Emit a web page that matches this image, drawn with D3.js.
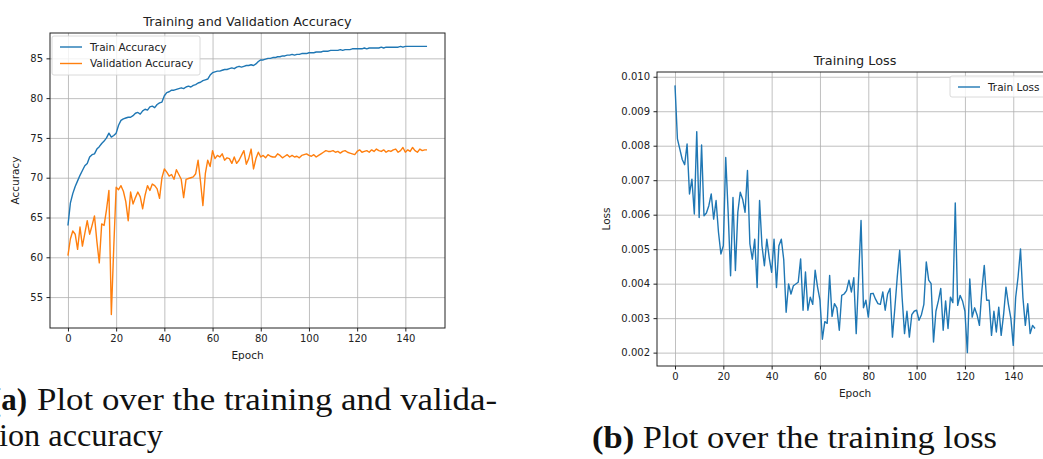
<!DOCTYPE html>
<html>
<head>
<meta charset="utf-8">
<script src="https://cdn.jsdelivr.net/npm/d3@7/dist/d3.min.js"></script>
<style>
  body { margin: 0; background: #fff; }
  svg text { font-family: "DejaVu Sans", sans-serif; fill: #222; }
  .cap text { font-family: "Liberation Serif", "DejaVu Serif", serif; fill: #111; }
</style>
</head>
<body>
<div id="fig"></div>
<script>
// ---- data ----
var trainAcc = [64.0, 66.8, 68.0, 68.9, 69.6, 70.3, 70.9, 71.5, 71.8, 72.6,
  72.9, 73.0, 73.6, 73.9, 74.3, 74.6, 75.0, 75.6, 75.1, 75.3,
  75.6, 76.6, 77.2, 77.4, 77.5, 77.6, 77.6, 77.8, 78.1, 78.2,
  78.0, 78.4, 78.6, 78.5, 78.9, 79.0, 78.8, 79.2, 79.4, 79.5,
  80.3, 80.7, 80.8, 81.0, 81.0, 81.1, 81.2, 81.3, 81.2, 81.4,
  81.5, 81.4, 81.6, 81.7, 81.9, 82.0, 82.2, 82.3, 82.4, 82.9,
  83.2, 83.3, 83.4, 83.4, 83.5, 83.6, 83.6, 83.7, 83.8, 83.7,
  83.9, 84.0, 83.9, 84.0, 84.1, 84.1, 84.2, 84.1, 84.3, 84.6,
  84.8, 84.8, 84.9, 85.0, 85.0, 85.1, 85.1, 85.2, 85.2, 85.3,
  85.3, 85.4, 85.4, 85.5, 85.4, 85.5, 85.5, 85.6, 85.6, 85.6,
  85.7, 85.7, 85.7, 85.8, 85.8, 85.8, 85.9, 85.9, 85.9, 86.0,
  86.0, 86.0, 86.0, 86.1, 86.0, 86.1, 86.1, 86.1, 86.2, 86.2,
  86.2, 86.2, 86.2, 86.3, 86.2, 86.3, 86.3, 86.3, 86.3, 86.3,
  86.4, 86.3, 86.4, 86.4, 86.4, 86.4, 86.4, 86.4, 86.5, 86.4,
  86.5, 86.5, 86.5, 86.5, 86.5, 86.5, 86.5, 86.5, 86.5, 86.5];

var valAcc = [60.2, 62.3, 63.3, 62.9, 61.0, 63.8, 61.4, 63.0, 64.6, 62.9,
  64.0, 65.2, 62.0, 59.3, 64.2, 64.0, 66.0, 68.4, 52.8, 61.2,
  68.8, 68.5, 69.0, 68.3, 67.0, 64.6, 68.2, 66.7, 67.5, 68.2,
  67.6, 66.1, 67.8, 69.0, 68.4, 69.2, 69.0, 68.6, 67.4, 70.0,
  71.1, 70.7, 70.2, 70.4, 69.8, 71.0, 70.4, 69.8, 67.5, 69.8,
  69.9, 70.0, 70.1, 70.5, 72.2, 69.5, 66.5, 70.5, 72.2, 71.4,
  73.4, 72.4, 72.8, 72.6, 73.0, 72.2, 72.5, 72.4, 71.8, 72.6,
  71.8, 72.2, 72.8, 73.4, 71.7, 72.4, 73.6, 71.1, 72.4, 73.2,
  72.6, 72.8, 72.5, 72.9, 72.7, 72.6, 72.6, 73.0, 72.8, 72.5,
  72.7, 72.9, 72.6, 72.8, 72.6, 72.7, 72.5, 72.8, 72.9, 73.0,
  72.8, 72.7, 72.9, 72.6, 72.8, 73.0, 73.2, 73.4, 73.3, 73.3,
  73.4, 73.2, 73.3, 73.1, 73.3, 73.4, 73.2, 73.1, 73.0, 72.9,
  73.3, 73.5, 73.2, 73.3, 73.4, 73.2, 73.5, 73.3, 73.6, 73.4,
  73.3, 73.5, 73.2, 73.4, 73.3, 73.5, 73.6, 73.2, 73.4, 73.8,
  73.2, 73.5, 73.3, 73.8, 73.4, 73.2, 73.6, 73.4, 73.5, 73.5];

var trainLoss = [0.00975, 0.00820, 0.00790, 0.00760, 0.00745, 0.00805, 0.00660, 0.00703, 0.00602, 0.00841,
  0.00592, 0.00802, 0.00597, 0.00605, 0.00626, 0.00660, 0.00587, 0.00641, 0.00549, 0.00486,
  0.00510, 0.00766, 0.00607, 0.00423, 0.00650, 0.00438, 0.00607, 0.00665, 0.00645, 0.00607,
  0.00728, 0.00515, 0.00471, 0.00529, 0.00389, 0.00641, 0.00510, 0.00452, 0.00529, 0.00475,
  0.00433, 0.00529, 0.00389, 0.00510, 0.00529, 0.00470, 0.00317, 0.00399, 0.00370, 0.00394,
  0.00399, 0.00404, 0.00472, 0.00323, 0.00434, 0.00323, 0.00361, 0.00340, 0.00439, 0.00390,
  0.00352, 0.00239, 0.00290, 0.00285, 0.00424, 0.00305, 0.00342, 0.00330, 0.00265, 0.00366,
  0.00370, 0.00380, 0.00410, 0.00376, 0.00417, 0.00255, 0.00420, 0.00583, 0.00330, 0.00352,
  0.00303, 0.00371, 0.00372, 0.00355, 0.00342, 0.00340, 0.00376, 0.00323, 0.00370, 0.00386,
  0.00245, 0.00330, 0.00420, 0.00497, 0.00360, 0.00255, 0.00320, 0.00245, 0.00310, 0.00320,
  0.00323, 0.00294, 0.00310, 0.00340, 0.00463, 0.00410, 0.00400, 0.00231, 0.00320, 0.00350,
  0.00386, 0.00265, 0.00350, 0.00270, 0.00361, 0.00345, 0.00634, 0.00337, 0.00366, 0.00350,
  0.00320, 0.00200, 0.00414, 0.00303, 0.00330, 0.00310, 0.00279, 0.00380, 0.00453, 0.00352,
  0.00352, 0.00250, 0.00320, 0.00260, 0.00332, 0.00250, 0.00310, 0.00390, 0.00340, 0.00300,
  0.00221, 0.00360, 0.00420, 0.00501, 0.00360, 0.00279, 0.00342, 0.00255, 0.00279, 0.00270];

var epochTicks = [0, 20, 40, 60, 80, 100, 120, 140];
var accTicks = [55, 60, 65, 70, 75, 80, 85];
var lossTicks = [0.002, 0.003, 0.004, 0.005, 0.006, 0.007, 0.008, 0.009, 0.010];
var accNames = ["Train Accuracy", "Validation Accuracy"];
var lossNames = ["Train Loss"];
var colors = ["#1f77b4", "#ff7f0e"];

var svg = d3.select("#fig").append("svg")
    .attr("width", 1043)
    .attr("height", 459);

function drawPanel(p) {
    var g = svg.append("g");
    var n = p.series[0].length;
    var xpad = (n - 1) * 0.05;
    var x = d3.scaleLinear().domain([-xpad, n - 1 + xpad]).range([p.left, p.right]);
    var lo = d3.min(p.series, s => d3.min(s)), hi = d3.max(p.series, s => d3.max(s));
    var ypad = (hi - lo) * 0.05;
    var y = d3.scaleLinear().domain([lo - ypad, hi + ypad]).range([p.bottom, p.top]);
    var h = p.bottom - p.top, w = p.right - p.left;

    // grid
    g.append("g")
        .attr("transform", "translate(0," + p.bottom + ")")
        .call(d3.axisBottom(x).tickValues(epochTicks).tickSize(-h).tickFormat(""))
        .call(a => a.select(".domain").remove())
        .selectAll("line").attr("stroke", "#b0b0b0").attr("stroke-width", 0.8);
    g.append("g")
        .attr("transform", "translate(" + p.left + ",0)")
        .call(d3.axisLeft(y).tickValues(p.yTicks).tickSize(-w).tickFormat(""))
        .call(a => a.select(".domain").remove())
        .selectAll("line").attr("stroke", "#b0b0b0").attr("stroke-width", 0.8);

    // lines
    var line = d3.line().x((d, i) => x(i)).y(d => y(d));
    p.series.forEach(function (s, k) {
        g.append("path")
            .datum(s)
            .attr("fill", "none")
            .attr("stroke", colors[k])
            .attr("stroke-width", 1.4)
            .attr("stroke-linejoin", "round")
            .attr("d", line);
    });

    // frame
    g.append("rect")
        .attr("x", p.left).attr("y", p.top)
        .attr("width", w).attr("height", h)
        .attr("fill", "none").attr("stroke", "#222").attr("stroke-width", 1);

    // axes
    var xa = g.append("g")
        .attr("transform", "translate(0," + p.bottom + ")")
        .call(d3.axisBottom(x).tickValues(epochTicks).tickSize(3.5).tickPadding(3.5));
    var ya = g.append("g")
        .attr("transform", "translate(" + p.left + ",0)")
        .call(d3.axisLeft(y).tickValues(p.yTicks).tickSize(3.5).tickPadding(3.5).tickFormat(p.fmt));
    [xa, ya].forEach(function (a) {
        a.select(".domain").remove();
        a.selectAll("line").attr("stroke", "#222");
        a.selectAll("text").style("font-family", "DejaVu Sans").style("font-size", "10px").attr("fill", "#222");
    });

    // titles
    g.append("text")
        .attr("x", (p.left + p.right) / 2).attr("y", p.top - 7)
        .attr("text-anchor", "middle").style("font-size", "12.8px")
        .text(p.title);
    g.append("text")
        .attr("x", (p.left + p.right) / 2).attr("y", p.bottom + 31)
        .attr("text-anchor", "middle").style("font-size", "10.5px")
        .text("Epoch");
    g.append("text")
        .attr("transform", "translate(" + p.ylabX + "," + (p.top + h / 2) + ") rotate(-90)")
        .attr("text-anchor", "middle").style("font-size", "10.5px")
        .text(p.ylabel);

    // legend
    var lg = p.legend;
    g.append("rect")
        .attr("x", lg.x).attr("y", lg.y).attr("width", lg.w).attr("height", lg.h)
        .attr("rx", 2).attr("fill", "#fff").attr("fill-opacity", 0.8)
        .attr("stroke", "#d0d0d0").attr("stroke-width", 0.8);
    p.names.forEach(function (name, k) {
        var cy = lg.y + 11 + k * 16.5;
        g.append("line")
            .attr("x1", lg.x + 8).attr("x2", lg.x + 30)
            .attr("y1", cy).attr("y2", cy)
            .attr("stroke", colors[k]).attr("stroke-width", 1.4);
        g.append("text")
            .attr("x", lg.x + 38).attr("y", cy).attr("dy", "0.35em")
            .style("font-size", "10.5px")
            .text(name);
    });
}

drawPanel({
    left: 50, right: 445, top: 33, bottom: 328,
    series: [trainAcc, valAcc], names: accNames, yTicks: accTicks, fmt: d3.format("d"),
    title: "Training and Validation Accuracy", ylabel: "Accuracy", ylabX: 19,
    legend: {x: 52, y: 36, w: 148, h: 39}
});

drawPanel({
    left: 657, right: 1053, top: 72, bottom: 366,
    series: [trainLoss], names: lossNames, yTicks: lossTicks, fmt: d3.format(".3f"),
    title: "Training Loss", ylabel: "Loss", ylabX: 610,
    legend: {x: 950, y: 76, w: 100, h: 21}
});

// captions (the left one is cut by the page edge, as in the original)
var cap = svg.append("g").attr("class", "cap").style("font-size", "31px");
cap.append("text").attr("x", 27).attr("y", 410).attr("text-anchor", "end")
    .style("font-weight", "bold").text("(a)");
cap.append("text").attr("x", 37).attr("y", 410)
    .attr("textLength", 460).attr("lengthAdjust", "spacingAndGlyphs")
    .text("Plot over the training and valida-");
cap.append("text").attr("x", -10).attr("y", 446)
    .attr("textLength", 173).attr("lengthAdjust", "spacingAndGlyphs")
    .text("tion accuracy");
var capB = cap.append("text").attr("x", 592).attr("y", 448)
    .attr("textLength", 405).attr("lengthAdjust", "spacingAndGlyphs");
capB.append("tspan").style("font-weight", "bold").text("(b)");
capB.append("tspan").text(" Plot over the training loss");
</script>
</body>
</html>
